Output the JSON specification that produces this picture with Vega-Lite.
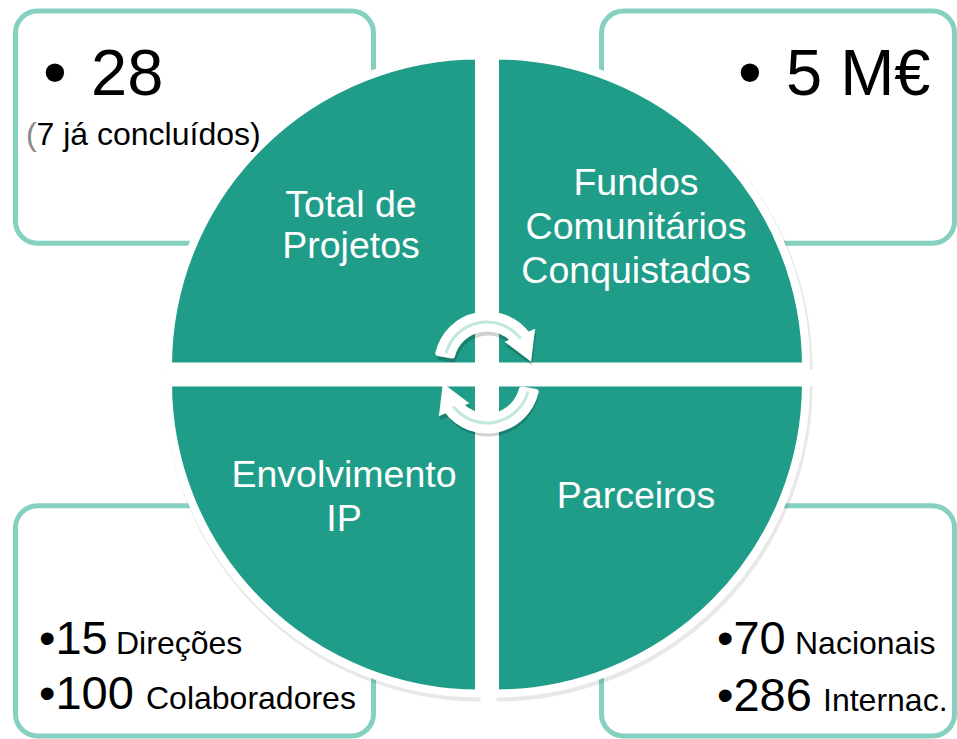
{
  "$schema": "https://vega.github.io/schema/vega-lite/v6.json",
  "width": 957,
  "height": 739,
  "autosize": {"type": "fit", "contains": "padding"},
  "padding": 0,
  "background": "white",
  "config": {"view": {"stroke": null}, "text": {"font": "Liberation Sans"}},
  "datasets": {
    "boxes": [
      {"name": "Total de Projetos", "x1": 15.5, "x2": 373.5, "y1": 11, "y2": 243.5},
      {"name": "Fundos Comunitários Conquistados", "x1": 601.5, "x2": 954.5, "y1": 11, "y2": 243.5},
      {"name": "Envolvimento IP", "x1": 15.5, "x2": 373.5, "y1": 506.5, "y2": 737},
      {"name": "Parceiros", "x1": 601.5, "x2": 954.5, "y1": 506.5, "y2": 737}
    ],
    "quarters": [
      {"name": "Total de Projetos", "cx": 479, "cy": 367, "t1": 4.712389, "t2": 6.283185},
      {"name": "Fundos Comunitários Conquistados", "cx": 495, "cy": 367, "t1": 0, "t2": 1.570796},
      {"name": "Parceiros", "cx": 495, "cy": 383, "t1": 1.570796, "t2": 3.141593},
      {"name": "Envolvimento IP", "cx": 479, "cy": 383, "t1": 3.141593, "t2": 4.712389}
    ],
    "labels": [
      {"text": "Total de", "x": 351, "y": 217},
      {"text": "Projetos", "x": 351, "y": 258},
      {"text": "Fundos", "x": 636, "y": 195},
      {"text": "Comunitários", "x": 636, "y": 239},
      {"text": "Conquistados", "x": 636, "y": 283},
      {"text": "Envolvimento", "x": 344, "y": 488},
      {"text": "IP", "x": 344, "y": 532},
      {"text": "Parceiros", "x": 636, "y": 509}
    ],
    "bullets": [
      {"text": "•", "x": 43, "y": 95},
      {"text": "•", "x": 738, "y": 95}
    ],
    "bigvalues": [
      {"text": "28", "x": 91, "y": 95},
      {"text": "5 M€", "x": 786, "y": 95}
    ],
    "numbers": [
      {"text": "•15", "x": 39, "y": 655},
      {"text": "•100", "x": 39, "y": 710},
      {"text": "•70", "x": 717, "y": 655},
      {"text": "•286", "x": 717, "y": 712}
    ],
    "words": [
      {"text": "Direções", "x": 116, "y": 655},
      {"text": "Colaboradores", "x": 146, "y": 710},
      {"text": "Nacionais", "x": 795, "y": 655},
      {"text": "Internac.", "x": 823, "y": 712}
    ],
    "subnote": [
      {"text": "7 já concluídos)", "x": 36.5, "y": 145}
    ],
    "paren": [
      {"text": "(", "x": 26, "y": 145}
    ],
    "arrows": [
      {"name": "top", "cx": 487, "cy": 365, "t1": -1.40, "t2": 1.00},
      {"name": "bottom", "cx": 487, "cy": 381, "t1": 1.74, "t2": 4.14}
    ],
    "arrowlines": [
      {"name": "top", "cx": 487, "cy": 365, "t1": -1.31, "t2": 0.92},
      {"name": "bottom", "cx": 487, "cy": 381, "t1": 1.83, "t2": 4.06}
    ],
    "heads": [
      {"name": "top", "x": 525.5, "y": 349, "angle": 157},
      {"name": "bottom", "x": 448.5, "y": 397, "angle": 337}
    ]
  },
  "layer": [
    {
      "data": {"name": "boxes"},
      "mark": {"type": "rect", "fill": "white", "stroke": "#86d0c2", "strokeWidth": 5, "cornerRadius": 22},
      "encoding": {
        "x": {"field": "x1", "type": "quantitative", "scale": {"domain": [0, 957], "nice": false, "zero": false}, "axis": null},
        "x2": {"field": "x2"},
        "y": {"field": "y1", "type": "quantitative", "scale": {"domain": [0, 739], "nice": false, "zero": false, "reverse": true}, "axis": null},
        "y2": {"field": "y2"}
      }
    },
    {
      "data": {"name": "quarters"},
      "mark": {"type": "arc", "radius": 316, "fill": "#000000", "fillOpacity": 0.09, "xOffset": 1.5, "yOffset": 3},
      "encoding": {
        "x": {"field": "cx", "type": "quantitative", "scale": {"domain": [0, 957], "nice": false, "zero": false}, "axis": null},
        "y": {"field": "cy", "type": "quantitative", "scale": {"domain": [0, 739], "nice": false, "zero": false, "reverse": true}, "axis": null},
        "theta": {"field": "t1", "type": "quantitative", "scale": null, "stack": null},
        "theta2": {"field": "t2"}
      }
    },
    {
      "data": {"name": "quarters"},
      "mark": {"type": "arc", "radius": 311, "fill": "#1f9d89", "stroke": "white", "strokeWidth": 8, "strokeJoin": "round"},
      "encoding": {
        "x": {"field": "cx", "type": "quantitative", "scale": {"domain": [0, 957], "nice": false, "zero": false}, "axis": null},
        "y": {"field": "cy", "type": "quantitative", "scale": {"domain": [0, 739], "nice": false, "zero": false, "reverse": true}, "axis": null},
        "theta": {"field": "t1", "type": "quantitative", "scale": null, "stack": null},
        "theta2": {"field": "t2"}
      }
    },
    {
      "data": {"name": "labels"},
      "mark": {"type": "text", "fontSize": 37.5, "color": "white", "align": "center", "baseline": "alphabetic"},
      "encoding": {
        "x": {"field": "x", "type": "quantitative", "scale": {"domain": [0, 957], "nice": false, "zero": false}, "axis": null},
        "y": {"field": "y", "type": "quantitative", "scale": {"domain": [0, 739], "nice": false, "zero": false, "reverse": true}, "axis": null},
        "text": {"field": "text"}
      }
    },
    {
      "data": {"name": "bullets"},
      "mark": {"type": "text", "fontSize": 68, "color": "black", "align": "left", "baseline": "alphabetic"},
      "encoding": {
        "x": {"field": "x", "type": "quantitative", "scale": {"domain": [0, 957], "nice": false, "zero": false}, "axis": null},
        "y": {"field": "y", "type": "quantitative", "scale": {"domain": [0, 739], "nice": false, "zero": false, "reverse": true}, "axis": null},
        "text": {"field": "text"}
      }
    },
    {
      "data": {"name": "bigvalues"},
      "mark": {"type": "text", "fontSize": 65, "color": "black", "align": "left", "baseline": "alphabetic"},
      "encoding": {
        "x": {"field": "x", "type": "quantitative", "scale": {"domain": [0, 957], "nice": false, "zero": false}, "axis": null},
        "y": {"field": "y", "type": "quantitative", "scale": {"domain": [0, 739], "nice": false, "zero": false, "reverse": true}, "axis": null},
        "text": {"field": "text"}
      }
    },
    {
      "data": {"name": "numbers"},
      "mark": {"type": "text", "fontSize": 47, "color": "black", "align": "left", "baseline": "alphabetic"},
      "encoding": {
        "x": {"field": "x", "type": "quantitative", "scale": {"domain": [0, 957], "nice": false, "zero": false}, "axis": null},
        "y": {"field": "y", "type": "quantitative", "scale": {"domain": [0, 739], "nice": false, "zero": false, "reverse": true}, "axis": null},
        "text": {"field": "text"}
      }
    },
    {
      "data": {"name": "words"},
      "mark": {"type": "text", "fontSize": 32, "color": "black", "align": "left", "baseline": "alphabetic"},
      "encoding": {
        "x": {"field": "x", "type": "quantitative", "scale": {"domain": [0, 957], "nice": false, "zero": false}, "axis": null},
        "y": {"field": "y", "type": "quantitative", "scale": {"domain": [0, 739], "nice": false, "zero": false, "reverse": true}, "axis": null},
        "text": {"field": "text"}
      }
    },
    {
      "data": {"name": "subnote"},
      "mark": {"type": "text", "fontSize": 32, "color": "black", "align": "left", "baseline": "alphabetic"},
      "encoding": {
        "x": {"field": "x", "type": "quantitative", "scale": {"domain": [0, 957], "nice": false, "zero": false}, "axis": null},
        "y": {"field": "y", "type": "quantitative", "scale": {"domain": [0, 739], "nice": false, "zero": false, "reverse": true}, "axis": null},
        "text": {"field": "text"}
      }
    },
    {
      "data": {"name": "paren"},
      "mark": {"type": "text", "fontSize": 32, "color": "#8a8a8a", "align": "left", "baseline": "alphabetic"},
      "encoding": {
        "x": {"field": "x", "type": "quantitative", "scale": {"domain": [0, 957], "nice": false, "zero": false}, "axis": null},
        "y": {"field": "y", "type": "quantitative", "scale": {"domain": [0, 739], "nice": false, "zero": false, "reverse": true}, "axis": null},
        "text": {"field": "text"}
      }
    },
    {
      "data": {"name": "arrows"},
      "mark": {"type": "arc", "radius": 52, "radius2": 33, "fill": "#000000", "fillOpacity": 0.18, "cornerRadius": 3, "xOffset": 1, "yOffset": 4},
      "encoding": {
        "x": {"field": "cx", "type": "quantitative", "scale": {"domain": [0, 957], "nice": false, "zero": false}, "axis": null},
        "y": {"field": "cy", "type": "quantitative", "scale": {"domain": [0, 739], "nice": false, "zero": false, "reverse": true}, "axis": null},
        "theta": {"field": "t1", "type": "quantitative", "scale": null, "stack": null},
        "theta2": {"field": "t2"}
      }
    },
    {
      "data": {"name": "heads"},
      "mark": {"type": "point", "shape": "triangle-up", "filled": true, "color": "#000000", "opacity": 0.18, "size": 1100, "xOffset": 1, "yOffset": 4},
      "encoding": {
        "x": {"field": "x", "type": "quantitative", "scale": {"domain": [0, 957], "nice": false, "zero": false}, "axis": null},
        "y": {"field": "y", "type": "quantitative", "scale": {"domain": [0, 739], "nice": false, "zero": false, "reverse": true}, "axis": null},
        "angle": {"field": "angle", "type": "quantitative", "scale": null}
      }
    },
    {
      "data": {"name": "arrows"},
      "mark": {"type": "arc", "radius": 53, "radius2": 33, "fill": "white", "cornerRadius": 3},
      "encoding": {
        "x": {"field": "cx", "type": "quantitative", "scale": {"domain": [0, 957], "nice": false, "zero": false}, "axis": null},
        "y": {"field": "cy", "type": "quantitative", "scale": {"domain": [0, 739], "nice": false, "zero": false, "reverse": true}, "axis": null},
        "theta": {"field": "t1", "type": "quantitative", "scale": null, "stack": null},
        "theta2": {"field": "t2"}
      }
    },
    {
      "data": {"name": "heads"},
      "mark": {"type": "point", "shape": "triangle-up", "filled": true, "color": "white", "opacity": 1, "size": 1100},
      "encoding": {
        "x": {"field": "x", "type": "quantitative", "scale": {"domain": [0, 957], "nice": false, "zero": false}, "axis": null},
        "y": {"field": "y", "type": "quantitative", "scale": {"domain": [0, 739], "nice": false, "zero": false, "reverse": true}, "axis": null},
        "angle": {"field": "angle", "type": "quantitative", "scale": null}
      }
    },
    {
      "data": {"name": "arrowlines"},
      "mark": {"type": "arc", "radius": 44, "radius2": 41, "fill": "#c2e7de", "cornerRadius": 1.5},
      "encoding": {
        "x": {"field": "cx", "type": "quantitative", "scale": {"domain": [0, 957], "nice": false, "zero": false}, "axis": null},
        "y": {"field": "cy", "type": "quantitative", "scale": {"domain": [0, 739], "nice": false, "zero": false, "reverse": true}, "axis": null},
        "theta": {"field": "t1", "type": "quantitative", "scale": null, "stack": null},
        "theta2": {"field": "t2"}
      }
    }
  ]
}
